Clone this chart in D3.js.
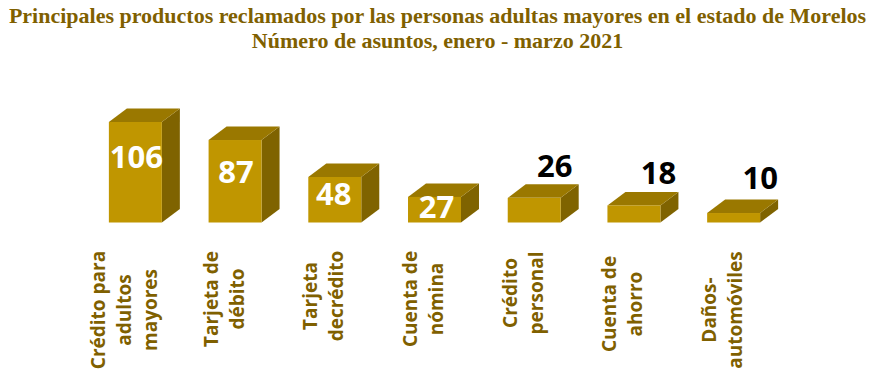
<!DOCTYPE html>
<html>
<head>
<meta charset="utf-8">
<script src="https://cdn.jsdelivr.net/npm/d3@7"></script>
<style>
html, body { margin: 0; padding: 0; background: #fff; }
svg { display: block; }
</style>
</head>
<body>
<div id="chart"></div>
<script>
var titleLines = [
	"Principales productos reclamados por las personas adultas mayores en el estado de Morelos",
	"Número de asuntos, enero - marzo 2021"
];
var categories = ["cpam", "td", "tc", "cn", "cp", "ca", "da"];
var categoryLines = [
	["Crédito para", "adultos", "mayores"],
	["Tarjeta de", "débito"],
	["Tarjeta", "decrédito"],
	["Cuenta de", "nómina"],
	["Crédito", "personal"],
	["Cuenta de", "ahorro"],
	["Daños-", "automóviles"]
];
var values = [106, 87, 48, 27, 26, 18, 10];

var WIDTH = 873;
var HEIGHT = 372;
var BASE_Y = 222.5;
var DEPTH_X = 18;
var DEPTH_Y = 13.5;
var LINE_STEP = 26;
var FRONT = "#c09600";
var TOP = "#9a7800";
var SIDE = "#7f6300";
var TEXT = "#7f6000";

// hand placed data labels: dx from front center, and y center
var labelDx = [1, 1, -1, 2, 20.5, 24.5, 26.5];
var labelY = [157, 172, 194, 207, 166, 173, 178];
var labelFill = ["#fff", "#fff", "#fff", "#fff", "#000", "#000", "#000"];
// center of the rotated category text block
var catCenterY = [310, 299, 296, 299, 293, 304, 310];

var svg = d3.select("#chart").append("svg")
	.attr("width", WIDTH)
	.attr("height", HEIGHT);

svg.selectAll("text.title")
	.data(titleLines)
	.enter()
	.append("text")
		.attr("class", "title")
		.attr("x", 437.5)
		.attr("y", function(d, i) { return 23 + i * 24.5; })
		.attr("text-anchor", "middle")
		.style("font-family", "'Liberation Serif', serif")
		.style("font-weight", "bold")
		.style("font-size", "22px")
		.style("fill", TEXT)
		.text(function(d) { return d; });

var x = d3.scaleBand()
	.domain(categories)
	.range([85.5, 783.5])
	.paddingInner(0.4687)
	.paddingOuter(0.2344);

var y = d3.scaleLinear()
	.domain([0, 106])
	.range([BASE_Y, 122]);

var nodes = svg.selectAll("g.bar")
	.data(values)
	.enter()
	.append("g")
		.attr("class", "bar");

function x0(i) { return x(categories[i]); }
function x1(i) { return x0(i) + x.bandwidth(); }

nodes.append("path")
	.style("fill", SIDE)
	.attr("d", function(d, i) {
		return d3.line()([
			[x1(i), y(d)],
			[x1(i) + DEPTH_X, y(d) - DEPTH_Y],
			[x1(i) + DEPTH_X, BASE_Y - DEPTH_Y],
			[x1(i), BASE_Y]
		]) + "Z";
	});

nodes.append("path")
	.style("fill", TOP)
	.attr("d", function(d, i) {
		return d3.line()([
			[x0(i), y(d)],
			[x0(i) + DEPTH_X, y(d) - DEPTH_Y],
			[x1(i) + DEPTH_X, y(d) - DEPTH_Y],
			[x1(i), y(d)]
		]) + "Z";
	});

nodes.append("rect")
	.style("fill", FRONT)
	.attr("x", function(d, i) { return x0(i); })
	.attr("y", function(d) { return y(d); })
	.attr("width", x.bandwidth())
	.attr("height", function(d) { return BASE_Y - y(d); });

nodes.append("text")
	.attr("x", function(d, i) { return x0(i) + x.bandwidth() / 2 + labelDx[i]; })
	.attr("y", function(d, i) { return labelY[i]; })
	.attr("dy", "0.36em")
	.attr("text-anchor", "middle")
	.style("font-family", "'Open Sans', sans-serif")
	.style("font-weight", "bold")
	.style("font-size", "31px")
	.style("fill", function(d, i) { return labelFill[i]; })
	.text(function(d) { return d; });

categoryLines.forEach(function(lines, i) {
	lines.forEach(function(line, j) {
		var lx = x0(i) + 22 + (j - (lines.length - 1) / 2) * LINE_STEP;
		svg.append("text")
			.attr("transform", "translate(" + lx + "," + catCenterY[i] + ") rotate(-90)")
			.attr("text-anchor", "middle")
			.style("font-family", "'Open Sans', sans-serif")
			.style("font-weight", "bold")
			.style("font-size", "19px")
			.style("fill", TEXT)
			.text(line);
	});
});
</script>
</body>
</html>
